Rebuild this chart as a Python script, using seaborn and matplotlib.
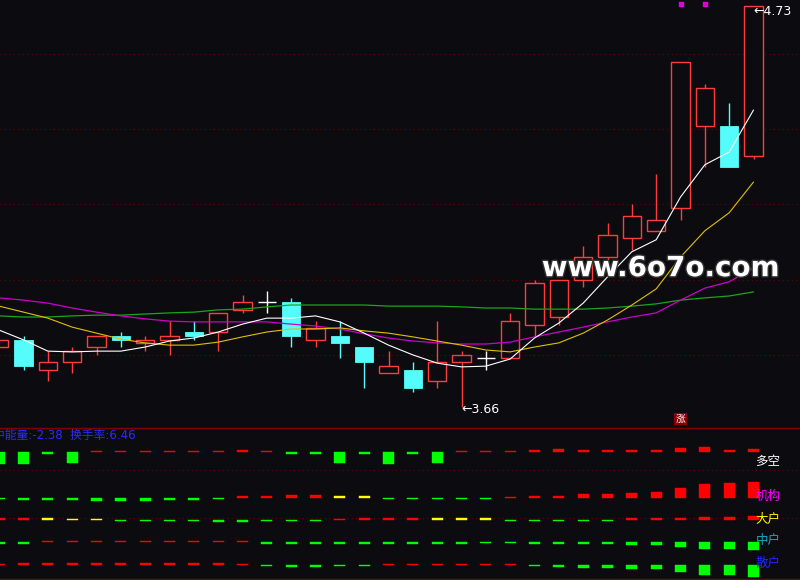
import pandas as pd
import matplotlib.pyplot as plt
import matplotlib.patheffects as pe
from matplotlib.transforms import blended_transform_factory
import seaborn as sns

# K-line data
opens  = [3.82, 3.84, 3.76, 3.78, 3.82, 3.85, 3.83, 3.84, 3.86, 3.86, 3.92, 3.94, 3.94, 3.84, 3.85, 3.82,
          3.75, 3.76, 3.73, 3.78, 3.79, 3.79, 3.88, 3.90, 4.00, 4.06, 4.11, 4.13, 4.19, 4.41, 4.41, 4.33]
closes = [3.84, 3.77, 3.78, 3.81, 3.85, 3.84, 3.84, 3.85, 3.85, 3.91, 3.94, 3.94, 3.85, 3.87, 3.83, 3.78,
          3.77, 3.71, 3.78, 3.80, 3.79, 3.89, 3.99, 4.00, 4.06, 4.12, 4.17, 4.16, 4.58, 4.51, 4.30, 4.73]
highs  = [3.84, 3.85, 3.81, 3.82, 3.85, 3.86, 3.85, 3.89, 3.89, 3.91, 3.96, 3.97, 3.95, 3.89, 3.89, 3.82,
          3.81, 3.78, 3.89, 3.81, 3.81, 3.91, 4.00, 4.00, 4.09, 4.15, 4.20, 4.28, 4.58, 4.52, 4.47, 4.73]
lows   = [3.82, 3.76, 3.73, 3.75, 3.80, 3.82, 3.81, 3.80, 3.84, 3.81, 3.91, 3.91, 3.82, 3.82, 3.79, 3.71,
          3.75, 3.70, 3.71, 3.66, 3.76, 3.79, 3.85, 3.88, 3.98, 4.04, 4.08, 4.13, 4.16, 4.30, 4.30, 4.32]

# moving averages
ma5  = [3.865, 3.839, 3.809, 3.807, 3.809, 3.809, 3.820, 3.836, 3.844, 3.860, 3.881, 3.897, 3.897, 3.903,
        3.887, 3.857, 3.825, 3.799, 3.777, 3.767, 3.769, 3.788, 3.844, 3.884, 3.937, 4.007, 4.074, 4.106,
        4.220, 4.306, 4.340, 4.452]
ma10 = [3.929, 3.913, 3.897, 3.873, 3.857, 3.841, 3.831, 3.825, 3.825, 3.833, 3.847, 3.860, 3.868, 3.868,
        3.871, 3.863, 3.857, 3.847, 3.836, 3.825, 3.812, 3.807, 3.820, 3.831, 3.857, 3.892, 3.932, 3.975,
        4.060, 4.130, 4.178, 4.260]
ma20 = [3.951, 3.945, 3.937, 3.924, 3.913, 3.903, 3.895, 3.889, 3.887, 3.887, 3.887, 3.887, 3.881, 3.876,
        3.868, 3.855, 3.844, 3.836, 3.831, 3.828, 3.828, 3.833, 3.847, 3.860, 3.873, 3.887, 3.900, 3.911,
        3.945, 3.977, 3.994, 4.031]
ma60 = [3.903, 3.900, 3.900, 3.903, 3.905, 3.905, 3.908, 3.911, 3.913, 3.919, 3.921, 3.927, 3.932, 3.932,
        3.932, 3.932, 3.929, 3.929, 3.929, 3.927, 3.924, 3.924, 3.921, 3.921, 3.921, 3.924, 3.929, 3.935,
        3.945, 3.951, 3.956, 3.967]

# bottom indicator rows
duokong = [-12, -12, -2, -11, 1, 1, 1, 1, 1, 1, 2, 1, -2, -2, -11, -2, -12, -2, -11, 1, 1, 1, 2, 3, 2, 2, 2, 2, 4, 5, 2, 3]
jigou   = [-1, -2, -2, -2, -3, -3, -3, -2, -2, -1, 2, 2, 3, 3, 2, 2, -1, -1, -1, -1, -1, 1, 2, 2, 4, 4, 5, 6, 10, 14, 15, 16]
dahu    = [2, 2, 2, 1, 1, -1, -1, -1, -1, -2, -2, -1, -1, -1, 1, 2, 2, 2, 2, 2, 2, -1, -1, -1, -1, -1, 2, 2, 2, 3, 3, 4]
zhonghu = [-2, -2, 1, 1, 1, 1, 1, 1, 1, 1, 1, -2, -2, -2, -2, -2, -2, -2, -2, -2, -1, -1, -2, -2, -2, -2, -3, -3, -5, -7, -7, -8]
sanhu   = [1, 2, 2, 2, 2, 2, 2, 2, 2, 2, 1, -1, -2, -2, -1, -1, 1, 1, 1, 1, 1, 1, -1, -2, -3, -3, -4, -4, -7, -10, -10, -12]
yellow_jigou = [14, 15]
yellow_dahu = [2, 3, 4, 18, 19, 20]
signal_idx = [28, 29]
zhang_idx = 28
info_text = "中能量:-2.38  换手率:6.46"

bg = "#0c0c10"
red = "#ff3c3c"
cyan = "#54fcfc"
grid_red = "#6e0000"

sns.set_theme(style="dark", rc={"axes.facecolor": bg, "figure.facecolor": bg})
plt.rcParams['font.family'] = ['DejaVu Sans', 'Noto Sans CJK SC']

df = pd.DataFrame({"idx": range(len(closes)), "ma5": ma5, "ma10": ma10, "ma20": ma20, "ma60": ma60})

fig = plt.figure(figsize=(8, 5.8), dpi=100)
ax = fig.add_axes([0, 153 / 580, 1, 427 / 580])
ax2 = fig.add_axes([0, 0, 1, 153 / 580])

xlim = (0.8 / 24.333, 800.8 / 24.333)

# ---- main panel ----
ax.set_xlim(*xlim)
ax.set_ylim(3.6067, 4.7453)
for y in [3.8, 4.0, 4.2, 4.4, 4.6]:
    ax.axhline(y, color=grid_red, lw=0.8, ls=(0, (1, 3)), zorder=0)

w = 0.76
for i, (o, c, h, l) in enumerate(zip(opens, closes, highs, lows)):
    top, bot = max(o, c), min(o, c)
    if c > o:
        col = red
        ax.bar(i, top - bot, bottom=bot, width=w, facecolor=bg, edgecolor=red, linewidth=1.0, zorder=2)
    elif c < o:
        col = cyan
        ax.bar(i, top - bot, bottom=bot, width=w, facecolor=cyan, edgecolor=cyan, linewidth=0.6, zorder=2)
    else:
        col = "white"
        ax.hlines(c, i - w / 2, i + w / 2, color=col, lw=1.0, zorder=2)
    if h > top:
        ax.vlines(i, top, h, color=col, lw=1.0, zorder=1)
    if l < bot:
        ax.vlines(i, l, bot, color=col, lw=1.0, zorder=1)

sns.lineplot(data=df, x="idx", y="ma60", ax=ax, color="#1aa51a", lw=0.9, zorder=3)
sns.lineplot(data=df, x="idx", y="ma20", ax=ax, color="#cc00cc", lw=0.9, zorder=3)
sns.lineplot(data=df, x="idx", y="ma10", ax=ax, color="#e0c000", lw=0.8, zorder=3)
sns.lineplot(data=df, x="idx", y="ma5", ax=ax, color="white", lw=0.8, zorder=3)

hi_i = highs.index(max(highs))
lo_i = lows.index(min(lows))
ax.annotate("←%.2f" % max(highs), xy=(hi_i, max(highs)), xytext=(0, -4.5), textcoords="offset points",
            ha="left", va="center", color="white", fontsize=9, zorder=5)
ax.annotate("←%.2f" % min(lows), xy=(lo_i, min(lows)), xytext=(0, -1.5), textcoords="offset points",
            ha="left", va="center", color="white", fontsize=9, zorder=5)

tr = blended_transform_factory(ax.transData, ax.transAxes)
ax.scatter(signal_idx, [1 - 4 / 427] * len(signal_idx), transform=tr, marker="s", s=5,
           color="#e000e0", zorder=5)
ax.text(zhang_idx, 8 / 427, "涨", transform=tr, ha="center", va="center", color="white", fontsize=7,
        bbox=dict(boxstyle="square,pad=0.15", fc="#8b0000", ec="none"), zorder=5)

ax.text(0.826, 0.372, "www.6o7o.com", transform=ax.transAxes, ha="center", va="center",
        color="white", fontsize=20, fontweight="bold", zorder=6,
        path_effects=[pe.withStroke(linewidth=2, foreground="#333333")])

ax.set_xlabel("")
ax.set_ylabel("")
ax.set_xticks([])
ax.set_yticks([])
for s in ax.spines.values():
    s.set_visible(False)

# ---- bottom indicator panel ----
ax2.set_xlim(*xlim)
ax2.set_ylim(0, 153)
ax2.axhline(152.5, color="#800000", lw=1.0)
ax2.axhline(1.5, color="#800000", lw=1.0)
for y in [110, 62]:
    ax2.axhline(y, color=grid_red, lw=0.8, ls=(0, (1, 3)), zorder=0)

rows = [(duokong, 128, []), (jigou, 82, yellow_jigou), (dahu, 60, yellow_dahu),
        (zhonghu, 38, []), (sanhu, 15, [])]
for vals, base, yel in rows:
    colors = []
    for i, v in enumerate(vals):
        if i in yel:
            colors.append("#ffff00")
        elif v > 0:
            colors.append("#ff0000")
        else:
            colors.append("#00ff00")
    ax2.bar(range(len(vals)), vals, bottom=base, width=0.45, color=colors, edgecolor=colors,
            linewidth=0.3, zorder=2)

labels = [("多空", 119, "white"), ("机构", 84, "#ff00ff"), ("大户", 61, "#ffff00"),
          ("中户", 39.5, "#1ea8bc"), ("散户", 17, "#2424ff")]
for txt, y, c in labels:
    ax2.text(0.96, y, txt, transform=blended_transform_factory(ax2.transAxes, ax2.transData),
             ha="center", va="center", color=c, fontsize=9, zorder=4)

ax2.text(-0.009, 145, info_text, transform=blended_transform_factory(ax2.transAxes, ax2.transData),
         ha="left", va="center", color="#2b2bff", fontsize=8.5, zorder=4)

ax2.set_xticks([])
ax2.set_yticks([])
for s in ax2.spines.values():
    s.set_visible(False)

fig.savefig("out.png", dpi=100, facecolor=bg)
